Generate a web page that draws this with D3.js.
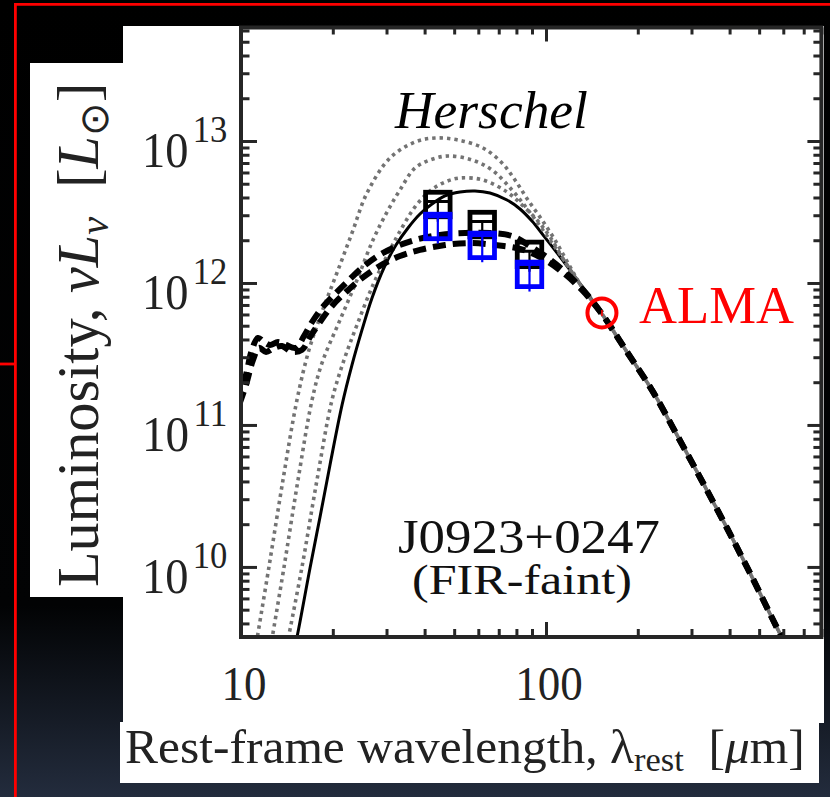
<!DOCTYPE html>
<html><head><meta charset="utf-8">
<script src="https://cdn.jsdelivr.net/npm/d3@7"></script>
<style>html,body{margin:0;padding:0;background:#000;overflow:hidden}svg{display:block}</style>
</head><body>
<svg id="c" width="830" height="797"></svg>
<script>
// ---------- data (rest wavelength in micron, luminosity in Lsun) ----------
const xDomain = [10, 800];
const yDomain = [3.21e9, 6.3e13];
const xMajorTicks = [10, 100];
const yMajorTicks = [1e10, 1e11, 1e12, 1e13];
const xTickLabels = ["10", "100"];
const yTickExponents = ["10", "11", "12", "13"];

// Herschel photometry (two flux estimates) and ALMA point
const herschelLambda = [44.2, 61.8, 88.3];
const herschelBlack = [3.57e12, 2.58e12, 1.59e12];
const herschelBlackHi = [3.75e12, 2.71e12, 1.67e12];
const herschelBlackLo = [2.70e12, 1.96e12, 1.20e12];
const herschelBlue = [2.50e12, 1.84e12, 1.15e12];
const herschelBlueHi = [2.93e12, 2.16e12, 1.35e12];
const herschelBlueLo = [1.90e12, 1.40e12, 0.87e12];
const almaLambda = [152.6];
const almaLum = [6.15e11];
const almaHi = [6.45e11];
const almaLo = [5.85e11];

// shared Rayleigh-Jeans tail
const tailCurve = [[184.3,3.27e11],[222.6,1.76e11],[268.8,8.5e10],[324.7,4.03e10],[392.1,1.88e10],[473.6,8.5e9],[572.2,3.72e9],[607.6,2.92e9]];
// solid fitted curve (merges into the tail at the ALMA point)
const fitCurve = [[15.03,2.82e9],[15.26,3.21e9],[16.84,9.84e9],[18.16,2.25e10],[19.58,5.23e10],[21.44,1.38e11],[23.12,2.65e11],[24.93,4.67e11],[26.89,7.84e11],[29.43,1.28e12],[32.22,1.85e12],[35.28,2.44e12],[38.62,3.06e12],[42.29,3.60e12],[46.66,4.10e12],[52.24,4.37e12],[58.51,4.45e12],[65.53,4.30e12],[74.5,3.84e12],[82.2,3.32e12],[89.97,2.73e12],[98.49,2.14e12],[108.7,1.63e12],[121.7,1.18e12],[136.3,8.50e11],[152.6,6.15e11]];
// dotted model curves
const dottedCurve1 = [[11.2,2.82e9],[12.35,1e10],[13.73,4.1e10],[15.26,1.5e11],[16.71,3.38e11],[18.43,6.25e11],[20.64,1.18e12],[23.12,2.25e12],[25.89,4.3e12],[30.8,7.59e12],[37.2,9.84e12],[43.26,1.05e13],[51.46,1.016e13],[62.15,8.93e12],[71.74,7.0e12],[79.15,5.31e12],[87.3,3.84e12],[97.03,2.78e12],[107,2.01e12],[118.1,1.38e12],[131.2,9.37e11],[152.6,6.05e11]];
const dottedCurve2 = [[12.54,2.82e9],[13.84,1e10],[15.38,4.1e10],[17.1,1.5e11],[18.43,2.73e11],[21.12,5.49e11],[24.01,1.05e12],[27.09,2.01e12],[30.11,3.16e12],[33.21,4.52e12],[37.2,6.45e12],[41.66,7.35e12],[47.72,7.84e12],[57.21,7.35e12],[66.53,6.25e12],[77.37,4.52e12],[87.3,3.27e12],[99.25,2.25e12],[112.8,1.52e12],[131.2,9.37e11],[152.6,6.05e11]];
const dottedCurve3 = [[14.15,2.82e9],[15.85,1e10],[17.75,4.1e10],[19.88,1.5e11],[21.77,2.87e11],[24.01,5.06e11],[27.09,9.68e11],[30.8,1.71e12],[33.97,2.52e12],[37.2,3.43e12],[41.66,4.45e12],[46.66,5.14e12],[52.24,5.49e12],[62.15,5.31e12],[74.5,4.37e12],[84.08,3.49e12],[93.44,2.78e12],[103.1,2.11e12],[115.4,1.41e12],[131.2,9.37e11],[152.6,6.05e11]];
// dashed template curves
const dashedCurve1 = [[9.78,1.5e11],[10.38,2.25e11],[10.86,3.38e11],[11.37,4.1e11],[11.9,3.84e11],[12.45,3.66e11],[13.22,3.84e11],[14.04,3.66e11],[15.15,3.49e11],[16.09,4.23e11],[17.1,5.31e11],[18.43,6.67e11],[20.18,8.23e11],[22.42,1.03e12],[24.93,1.28e12],[28.13,1.55e12],[31.97,1.79e12],[37.2,2.01e12],[44.92,2.18e12],[54.26,2.25e12],[65.53,2.25e12],[77.37,2.14e12],[88.62,1.82e12],[101.5,1.5e12],[115.4,1.2e12],[134.2,8.64e11],[152.6,6.05e11]];
const dashedCurve2 = [[9.78,1.32e11],[10.38,1.91e11],[10.95,2.87e11],[11.46,3.49e11],[12.08,3.27e11],[12.83,3.49e11],[13.63,3.6e11],[14.7,3.27e11],[15.85,3.38e11],[16.84,4.17e11],[18.16,5.31e11],[19.88,6.89e11],[22.09,8.64e11],[24.93,1.08e12],[28.55,1.32e12],[33.21,1.55e12],[38.62,1.71e12],[46.66,1.85e12],[56.35,1.91e12],[68.05,1.85e12],[82.2,1.74e12],[95.56,1.52e12],[111.2,1.23e12],[131.2,8.93e11],[152.6,6.05e11]];

// ---------- drawing ----------
const svg = d3.select('#c');
const defs = svg.append('defs');
const grad = defs.append('linearGradient').attr('id','bg').attr('x1',0).attr('y1',0).attr('x2',0).attr('y2',1);
grad.append('stop').attr('offset','0').attr('stop-color','#000');
grad.append('stop').attr('offset','0.76').attr('stop-color','#020304');
grad.append('stop').attr('offset','1').attr('stop-color','#232c3d');
svg.append('rect').attr('width',830).attr('height',797).attr('fill','url(#bg)');

// red frame
const red = '#ff0000';
svg.append('line').attr('x1',14).attr('x2',830).attr('y1',4.3).attr('y2',4.3).attr('stroke',red).attr('stroke-width',2.8);
svg.append('line').attr('x1',15.4).attr('x2',15.4).attr('y1',3).attr('y2',797).attr('stroke',red).attr('stroke-width',2.8);
svg.append('line').attr('x1',0).attr('x2',15).attr('y1',364).attr('y2',364).attr('stroke',red).attr('stroke-width',2.8);

// white panels
svg.append('rect').attr('x',30).attr('y',63).attr('width',94).attr('height',534).attr('fill','#fff');
svg.append('rect').attr('x',123).attr('y',26).attr('width',701).attr('height',697).attr('fill','#fff');
svg.append('rect').attr('x',120).attr('y',722).attr('width',699).attr('height',61).attr('fill','#fff');

const L = 241, R = 821.4, T = 27.5, B = 637;
const x = d3.scaleLog().domain(xDomain).range([L, R]);
const y = d3.scaleLog().domain(yDomain).range([B, T]);

defs.append('clipPath').attr('id','plot').append('rect').attr('x',L).attr('y',T).attr('width',R-L).attr('height',B-T);
const plot = svg.append('g').attr('clip-path','url(#plot)');

const line = d3.line().x(d => x(d[0])).y(d => y(d[1])).curve(d3.curveCatmullRom.alpha(0.5));

// length along a path until it reaches screen x = xs
function lengthTo(pathEl, xs) {
  const total = pathEl.getTotalLength();
  let lo = 0, hi = total;
  for (let k = 0; k < 40; k++) {
    const mid = (lo + hi) / 2;
    if (pathEl.getPointAtLength(mid).x < xs) lo = mid; else hi = mid;
  }
  return lo;
}
// phase the dash pattern so it has a chosen phase where the curve joins the tail
function drawPatterned(curve, stroke, width, dash, period, phase) {
  const p = plot.append('path').datum(curve.concat(tailCurve)).attr('d', line)
    .attr('fill','none').attr('stroke', stroke).attr('stroke-width', width)
    .attr('stroke-dasharray', dash);
  const s = lengthTo(p.node(), x(tailCurve[0][0]));
  const off = (((phase - s) % period) + period) % period;
  p.attr('stroke-dashoffset', off);
  return p;
}

plot.append('path').datum(fitCurve).attr('d',line)
  .attr('fill','none').attr('stroke','#000').attr('stroke-width',3);
const dotP = 7.4;
[dottedCurve1, dottedCurve2, dottedCurve3].forEach((c, i) => {
  drawPatterned(c, '#737373', 3.6, '3.4 4', dotP, i * dotP / 3);
});
const dashP = 20;
[dashedCurve1, dashedCurve2].forEach((c, i) => {
  drawPatterned(c, '#000', 6, '13 7', dashP, 0);
});

// markers with error bars
function drawSquares(vals, hi, lo, color) {
  const g = plot.append('g');
  const s = 24.5;
  herschelLambda.forEach((l, i) => {
    g.append('line').attr('x1',x(l)).attr('x2',x(l)).attr('y1',y(hi[i])).attr('y2',y(lo[i]))
      .attr('stroke',color).attr('stroke-width',2.2);
    g.append('line').attr('x1',x(l)-s/2).attr('x2',x(l)+s/2).attr('y1',y(hi[i])).attr('y2',y(hi[i]))
      .attr('stroke',color).attr('stroke-width',3);
    g.append('rect').attr('x',x(l)-s/2).attr('y',y(vals[i])-s/2).attr('width',s).attr('height',s)
      .attr('fill','none').attr('stroke',color).attr('stroke-width',4.8);
  });
}
drawSquares(herschelBlack, herschelBlackHi, herschelBlackLo, '#000');
drawSquares(herschelBlue, herschelBlueHi, herschelBlueLo, '#0000ff');

almaLambda.forEach((l, i) => {
  plot.append('line').attr('x1',x(l)).attr('x2',x(l)).attr('y1',y(almaHi[i])).attr('y2',y(almaLo[i]))
    .attr('stroke',red).attr('stroke-width',1.6);
  plot.append('circle').attr('cx',x(l)).attr('cy',y(almaLum[i])).attr('r',14.5)
    .attr('fill','none').attr('stroke',red).attr('stroke-width',4);
});

// axes (ticks pointing inward)
const axisColor = '#262626';
const xMinor = x.ticks().filter(v => !xMajorTicks.includes(v));
const yMinor = y.ticks().filter(v => !yMajorTicks.some(m => Math.abs(m - v) / m < 1e-6));
function addAxis(gen, tr, vals, len) {
  const g = svg.append('g').attr('transform', tr).style('color', axisColor)
    .call(gen.tickValues(vals).tickSizeInner(-len).tickSizeOuter(0).tickFormat(''));
  g.select('.domain').remove();
  g.selectAll('line').attr('stroke-width', 3);
  return g;
}
addAxis(d3.axisBottom(x), `translate(0,${B})`, xMinor, 8);
addAxis(d3.axisBottom(x), `translate(0,${B})`, xMajorTicks, 15);
addAxis(d3.axisTop(x), `translate(0,${T})`, xMinor, 7);
addAxis(d3.axisTop(x), `translate(0,${T})`, xMajorTicks, 14);
addAxis(d3.axisLeft(y), `translate(${L},0)`, yMinor, 8.5);
addAxis(d3.axisLeft(y), `translate(${L},0)`, yMajorTicks, 16);
addAxis(d3.axisRight(y), `translate(${R},0)`, yMinor, 8);
addAxis(d3.axisRight(y), `translate(${R},0)`, yMajorTicks, 14);
svg.append('rect').attr('x',L).attr('y',T).attr('width',R-L).attr('height',B-T)
  .attr('fill','none').attr('stroke',axisColor).attr('stroke-width',4);

// ---------- text ----------
const serif = '"Liberation Serif","Times New Roman",serif';
function fit(t, x0, x1, base, sy) {
  const w = t.node().getComputedTextLength();
  const sx = (x1 - x0) / w;
  t.attr('transform', `translate(${x0},${base}) scale(${sx},${sy})`);
}
const textColor = '#222';

// x tick labels
xMajorTicks.forEach((v, i) => {
  svg.append('text').text(xTickLabels[i])
    .attr('font-family', serif).attr('font-size', 45).attr('fill', textColor)
    .attr('text-anchor','middle')
    .attr('transform', `translate(${x(v) + 3},${700}) scale(1,1.1)`);
});
// y tick labels
yMajorTicks.forEach((v, i) => {
  const t = svg.append('text').attr('font-family', serif).attr('font-size', 43).attr('fill', textColor);
  t.append('tspan').text('10');
  t.append('tspan').text(yTickExponents[i]).attr('font-size', 32).attr('dx', 4).attr('dy', -21);
  fit(t, 142, 223, y(v) + 26, 1.2);
});

// axis titles
const xt = svg.append('text').attr('font-family', serif).attr('font-size', 46).attr('fill', textColor);
xt.append('tspan').text('Rest-frame wavelength, λ');
xt.append('tspan').text('rest').attr('font-size', 32).attr('dy', 8);
xt.append('tspan').text('\u2002[').attr('dy', -8);
xt.append('tspan').text('μ').attr('font-style','italic');
xt.append('tspan').text('m]');
fit(xt, 125, 805, 763, 1.05);

const yt = svg.append('text').attr('font-family', serif).attr('font-size', 52).attr('fill', textColor);
yt.append('tspan').text('Luminosity, ');
yt.append('tspan').text('νL').attr('font-style','italic');
yt.append('tspan').text('ν').attr('font-style','italic').attr('font-size', 36).attr('dy', 9);
yt.append('tspan').text('\u2002[').attr('dy', -9);
yt.append('tspan').text('L').attr('font-style','italic');
yt.append('tspan').text('⊙').attr('font-size', 36).attr('dy', 9);
yt.append('tspan').text(']').attr('dy', -9);
(function(){
  const w = yt.node().getComputedTextLength();
  const sx = (587 - 83) / w;
  yt.attr('transform', `translate(98,587) rotate(-90) scale(${sx},1.12)`);
})();

// annotations
const hs = svg.append('text').text('Herschel').attr('font-family', serif).attr('font-style','italic')
  .attr('font-size', 53).attr('fill', '#000');
fit(hs, 395, 588, 128, 1.0);
const al = svg.append('text').text('ALMA').attr('font-family', serif)
  .attr('font-size', 53).attr('fill', red);
fit(al, 639, 794, 323, 1.0);
const nm = svg.append('text').text('J0923+0247').attr('font-family', serif)
  .attr('font-size', 46).attr('fill', '#111');
fit(nm, 398, 660, 553, 1.04);
const sb = svg.append('text').text('(FIR-faint)').attr('font-family', serif)
  .attr('font-size', 40).attr('fill', '#111');
fit(sb, 412, 632, 594, 1.07);
</script>
</body></html>
